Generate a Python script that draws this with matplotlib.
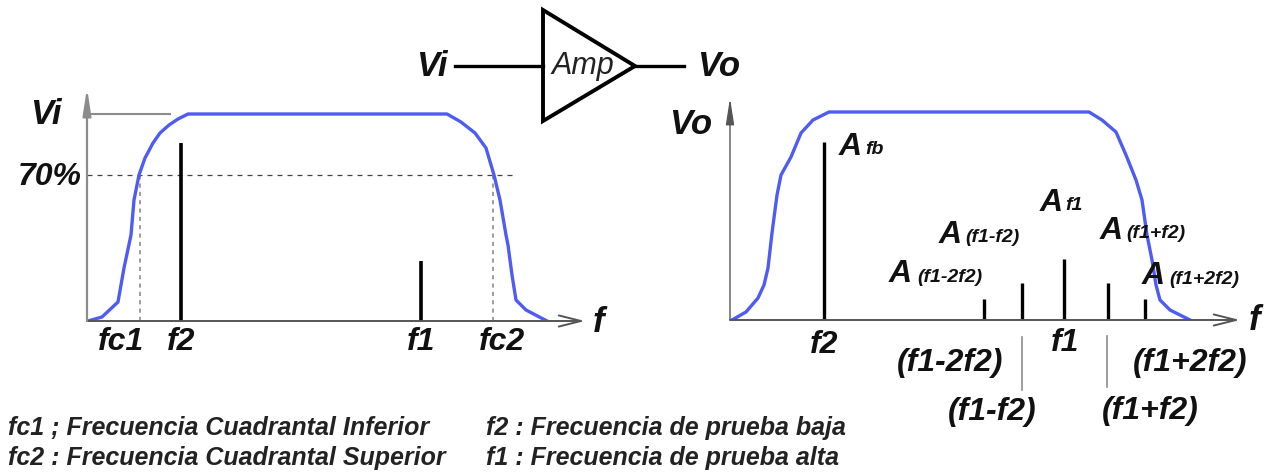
import matplotlib
matplotlib.use("Agg")
import matplotlib.pyplot as plt
from matplotlib.patches import Polygon

plt.rcParams['font.family'] = ['Liberation Sans', 'DejaVu Sans']

W, H = 1269, 475
BLUE = '#4f5cf2'
GRAY = '#8c8c8c'

# response curves and test tones
left_f = [1, 15, 31, 37, 44, 47, 52, 58, 66, 73, 82, 91, 101, 360, 374, 388, 399, 407, 413, 419, 421, 425, 429, 439, 460]
left_v = [0, 4, 19, 53, 86, 121, 146, 163, 178, 188, 196, 202, 207, 207, 199, 188, 173, 146, 121, 86, 76, 46, 21, 11, 0]
left_tone_f = [94, 334]
left_tone_v = [178, 60]
level_70 = 146
fc1 = 53
fc2 = 406

right_f = [2, 16, 28, 34, 38, 42, 47, 51, 61, 71, 83, 99, 359, 372, 386, 396, 406, 412, 417, 422, 426, 430, 440, 460]
right_v = [0, 8, 22, 35, 52, 87, 125, 145, 163, 187, 200, 208, 208, 200, 188, 165, 140, 120, 85, 60, 35, 20, 10, 0]
right_tone_f = [94, 254, 292, 334, 378, 415]
right_tone_v = [178, 21, 37, 61, 37, 21]

# label, x, y, size
plot_labels = [
    ('Vi', 46, 115, 25), ('70%', 50, 177, 23),
    ('fc1', 121, 342, 23), ('f2', 181, 342, 23), ('f1', 421, 342, 23),
    ('fc2', 502, 342, 23), ('f', 599, 322, 25),
    ('Vi', 432, 66, 25), ('Vo', 719, 66, 25), ('Vo', 691, 125, 25),
    ('f2', 824, 345, 23), ('f1', 1065, 343, 23), ('f', 1255, 320, 25),
    ('(f1-2f2)', 950, 363, 23), ('(f1-f2)', 992, 412, 23),
    ('(f1+2f2)', 1190, 363, 23), ('(f1+f2)', 1150, 411, 23),
]
# main letter + subscript, x, y, subscript x
amp_labels = [
    ('A', 'fb', 850, 147, 865),
    ('A', 'f1', 1051, 203, 1065),
    ('A', '(f1-f2)', 950, 235, 965),
    ('A', '(f1+f2)', 1111, 231, 1126),
    ('A', '(f1-2f2)', 900, 274, 917),
    ('A', '(f1+2f2)', 1153, 276, 1169),
]
legend_lines = [
    ('fc1 ; Frecuencia Cuadrantal Inferior', 8, 428),
    ('fc2 : Frecuencia Cuadrantal Superior', 8, 458),
    ('f2 : Frecuencia de prueba baja', 486, 428),
    ('f1 : Frecuencia de prueba alta', 486, 458),
]


def panel(x0, y0, width, height):
    ax = fig.add_axes([x0 / W, 1 - y0 / H, width / W, height / H])
    ax.set_xlim(0, width)
    ax.set_ylim(0, height)
    ax.axis('off')
    ax.patch.set_alpha(0)
    return ax


def draw_axes(ax, color):
    ax.annotate('', xy=(ax.get_xlim()[1], 0), xytext=(0, 0), annotation_clip=False,
                arrowprops=dict(arrowstyle='->,head_length=1.6,head_width=0.4', color='#555555', lw=1.4,
                                shrinkA=0, shrinkB=0))
    ax.annotate('', xy=(0, ax.get_ylim()[1]), xytext=(0, 0), annotation_clip=False,
                arrowprops=dict(arrowstyle='-|>,head_length=1.6,head_width=0.25', color=color, lw=1.6 if color == GRAY else 1.0,
                                shrinkA=0, shrinkB=0))


fig = plt.figure(figsize=(W / 100, H / 100), dpi=100)

# left panel
ax1 = panel(87, 321, 498, 233)
draw_axes(ax1, GRAY)
ax1.plot([5, 83], [207, 207], color=GRAY, lw=1.5)
ax1.plot([0, 428], [level_70, level_70], color='#444444', lw=0.9, dashes=(4, 4))
ax1.plot([fc1, fc1], [0, level_70], color=GRAY, lw=1.2, dashes=(2.5, 2.5))
ax1.plot([fc2, fc2], [0, level_70], color=GRAY, lw=1.2, dashes=(2.5, 2.5))
ax1.vlines(left_tone_f, 0, left_tone_v, color='black', lw=2.6)
ax1.plot(left_f, left_v, color=BLUE, lw=2.4, solid_joinstyle='round')

# right panel
ax2 = panel(730, 320, 510, 222)
draw_axes(ax2, '#555555')
ax2.vlines(right_tone_f, 0, right_tone_v, color='black', lw=2.4)
ax2.plot(right_f, right_v, color=BLUE, lw=2.4, solid_joinstyle='round')

# amplifier block and free text, in picture pixels
ov = fig.add_axes([0, 0, 1, 1])
ov.set_xlim(0, W)
ov.set_ylim(H, 0)
ov.axis('off')
ov.patch.set_alpha(0)

ov.add_patch(Polygon([(543, 10), (543, 121), (635, 66)], closed=True, fill=False, ec='black', lw=2.8))
ov.plot([455, 543], [66, 66], color='black', lw=2.4)
ov.plot([635, 684], [66, 66], color='black', lw=2.4)
ov.text(583, 66, 'Amp', fontsize=22, style='italic', ha='center', va='center', color='#222222')

# thin leader lines below the right panel
ov.plot([1022, 1022], [337, 390], color=GRAY, lw=1.2)
ov.plot([1107, 1107], [336, 387], color=GRAY, lw=1.2)

for label, x, y, size in plot_labels:
    ov.text(x, y, label, fontsize=size, style='italic', weight='bold', ha='center', va='center', color='#111111')

for main, sub, x, y, sub_x in amp_labels:
    ov.text(x, y, main, fontsize=23, style='italic', weight='bold', ha='center', va='center', color='#111111')
    ov.text(sub_x, y + 3, sub, fontsize=14, style='italic', weight='bold', ha='left', va='center', color='#111111')

for line, x, y in legend_lines:
    ov.text(x, y, line, fontsize=18, style='italic', weight='bold', ha='left', va='center', color='#222222')

fig.savefig('out.png', dpi=100)
